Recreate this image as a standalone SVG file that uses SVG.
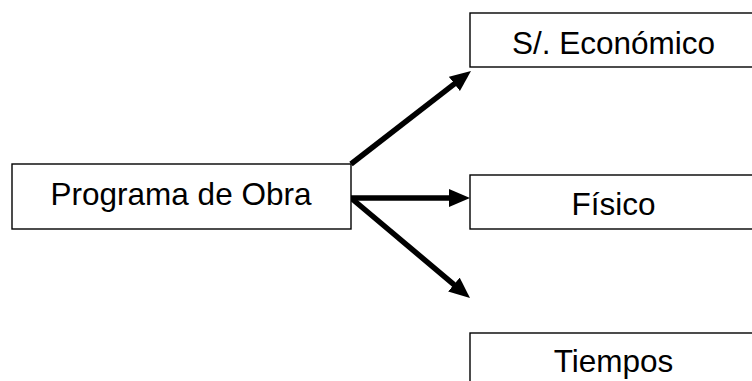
<svg xmlns="http://www.w3.org/2000/svg" width="752" height="381" viewBox="0 0 752 381">
<defs>
<style>
.box{fill:#fff;stroke:#000;stroke-width:1.4}
.lbl{font-family:"Liberation Sans",Arial,sans-serif;font-size:31.5px;fill:#000;text-anchor:middle}
.arr{stroke:#000;stroke-width:5.5;fill:none;marker-end:url(#ah)}
</style>
<marker id="ah" markerUnits="userSpaceOnUse" markerWidth="21" markerHeight="18" refX="9" refY="9" orient="auto">
<path d="M0,0 L21,9 L0,18 z" fill="#000"/>
</marker>
</defs>
<rect width="752" height="381" fill="#fff"/>
<g id="connectors">
<line class="arr" x1="351" y1="164" x2="461.5" y2="78.4"/>
<line class="arr" x1="351" y1="198" x2="458" y2="198"/>
<line class="arr" x1="351" y1="198" x2="460.8" y2="290.3"/>
</g>
<g id="programa">
<rect class="box" x="12" y="164" width="339" height="65"/>
<text class="lbl" x="181" y="205">Programa de Obra</text>
</g>
<g id="economico">
<rect class="box" x="470" y="13" width="290" height="54"/>
<text class="lbl" x="613.5" y="54">S/. Económico</text>
</g>
<g id="fisico">
<rect class="box" x="470" y="175" width="290" height="54"/>
<text class="lbl" x="613.5" y="215">Físico</text>
</g>
<g id="tiempos">
<rect class="box" x="470" y="333" width="290" height="60"/>
<text class="lbl" x="613.5" y="372">Tiempos</text>
</g>
</svg>
